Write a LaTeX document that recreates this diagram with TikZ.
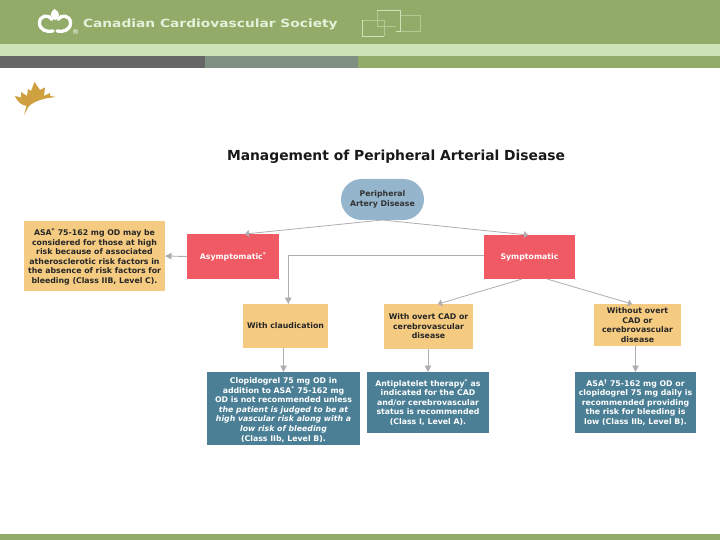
\documentclass[tikz,border=0pt]{standalone}
\usepackage{fontspec}
\setmainfont{DejaVu Sans}
\newfontfamily\hdrfont[FakeStretch=1.22]{DejaVu Sans Bold}
\usetikzlibrary{arrows.meta,shapes.misc}
\definecolor{band}{HTML}{92AB68}
\definecolor{lightband}{HTML}{CBE3B6}
\definecolor{darkgrey}{HTML}{666666}
\definecolor{midgrey}{HTML}{7F8F82}
\definecolor{tan}{HTML}{F5CB82}
\definecolor{redbox}{HTML}{F05A64}
\definecolor{teal}{HTML}{4A7F96}
\definecolor{bluepill}{HTML}{94B5CC}
\definecolor{connector}{HTML}{ADADB2}
\definecolor{leaf}{HTML}{CFA040}
\tikzset{
  x=1pt,y=-1pt,
  every node/.style={inner sep=0pt,outer sep=0pt,align=center,font=\fontsize{7.8}{9.55}\selectfont\bfseries},
  tanbox/.style={fill=tan,text=black!85},
  redb/.style={fill=redbox,text=white},
  tealbox/.style={fill=teal,text=white},
  link/.style={draw=connector,line width=0.9pt,-{Triangle[length=6.5pt,width=6.5pt]}},
  thinlink/.style={draw=connector,line width=0.8pt,-{Triangle[length=4pt,width=7pt]}},
  frameline/.style={draw=lightband,line width=0.8pt},
  faintline/.style={draw=lightband!55!band,line width=0.6pt},
}
\begin{document}
\begin{tikzpicture}
\useasboundingbox (0,0) rectangle (720,540);
% bands
\fill[band] (0,0) rectangle (720,44);
\fill[lightband] (0,44) rectangle (720,56);
\fill[darkgrey] (0,56) rectangle (205,68);
\fill[midgrey] (205,56) rectangle (358,68);
\fill[band] (358,56) rectangle (720,68);
\fill[band] (0,534) rectangle (720,540);
% society logo
\draw[white,line width=3.3pt,line cap=round] (52,19.5) .. controls (49,14) and (39.5,15) .. (39.5,23) .. controls (39.5,30) and (47,32.5) .. (53,31);
\draw[white,line width=3.3pt,line cap=round] (58,19.5) .. controls (61,14) and (70.5,15) .. (70.5,23) .. controls (70.5,30) and (63,32.5) .. (57,31);
\fill[white] (54.5,9) .. controls (50,12) and (49,17) .. (55,20) .. controls (61,17) and (60,12) .. (54.5,9) -- cycle;
\node[text=white,font=\fontsize{7}{8}\selectfont] (reg) at (75.5,31.5) {®};
\node[anchor=west,text=lightband!50!white,font=\fontsize{11.3}{13}\hdrfont] (society) at (83,24.3) {Canadian Cardiovascular Society};
% decorative frames
\draw[faintline] (400,15.5) rectangle (420,31);
\draw[faintline] (377,26) -- (396,26);
\draw[faintline] (377,10) -- (377,26);
\draw[faintline] (384,20) -- (362,20);
\draw[faintline] (384,20) -- (384,36);
\draw[frameline] (362,20) -- (362,36) -- (384,36);
\draw[frameline] (377,10) -- (400,10) -- (400,31) -- (396,31);
% maple leaf
\fill[leaf] (24,115) -- (26.5,106) .. controls (22,105) and (18,103) .. (15,96) -- (21,97.5) -- (21,92) -- (27,96) -- (28,89) -- (31,91) -- (34.5,82) -- (40,90) -- (45,87.5) -- (44,96) -- (50,93) -- (50,96) -- (56,97) .. controls (46,98) and (36,100) .. (29,106) -- cycle;
% title
\node[anchor=west,text=black!90,font=\fontsize{13.85}{16}\selectfont\bfseries] (title) at (227,156.5) {Management of Peripheral Arterial Disease};
% flowchart
\node[fill=bluepill,rounded rectangle,minimum width=83pt,minimum height=41pt,text=black!80] (pad) at (382.5,199.5) {Peripheral\\Artery Disease};
\node[tanbox,minimum width=141pt,minimum height=70pt] (asa) at (94.5,256) {\rule{0pt}{9pt}ASA\textsuperscript{*} 75-162 mg OD may be\\considered for those at high\\risk because of associated\\atherosclerotic risk factors in\\the absence of risk factors for\\bleeding (Class IIB, Level C).};
\node[redb,minimum width=92pt,minimum height=45pt] (asym) at (233,256.5) {Asymptomatic\textsuperscript{*}};
\node[redb,minimum width=91pt,minimum height=44pt] (sym) at (529.5,257) {Symptomatic};
\node[tanbox,minimum width=85pt,minimum height=44pt] (claud) at (285.5,326) {With claudication};
\node[tanbox,minimum width=89pt,minimum height=45pt] (overt) at (428.5,326.5) {With overt CAD or\\cerebrovascular\\disease};
\node[tanbox,minimum width=87pt,minimum height=42pt] (noovert) at (637.5,325) {Without overt\\CAD or\\cerebrovascular\\disease};
\node[tealbox,minimum width=153pt,minimum height=73pt] (clop) at (283.5,408.5) {\rule{0pt}{9pt}Clopidogrel 75 mg OD in\\addition to ASA\textsuperscript{*} 75-162 mg\\OD is not recommended unless\\{\itshape the patient is judged to be at}\\{\itshape high vascular risk along with a}\\{\itshape low risk of bleeding}\\(Class IIb, Level B).};
\node[tealbox,minimum width=122pt,minimum height=61pt] (anti) at (428,402.5) {Antiplatelet therapy\textsuperscript{*} as\\indicated for the CAD\\and/or cerebrovascular\\status is recommended\\(Class I, Level A).};
\node[tealbox,minimum width=121pt,minimum height=61pt] (rec) at (635.5,402.5) {ASA\textsuperscript{†} 75-162 mg OD or\\clopidogrel 75 mg daily is\\recommended providing\\the risk for bleeding is\\low (Class IIb, Level B).};
% connector end points
\coordinate (padfoot) at (pad.south);
\coordinate (asymtop) at (245,234);
\coordinate (symtop) at (528,235);
\coordinate (elbow) at (288.3,255.4);
\coordinate (claudtop) at (288.3,304);
\coordinate (symbl) at (522,279);
\coordinate (symbr) at (547,279);
\coordinate (overttop) at (438,304);
\coordinate (nooverttop) at (632,304);
% connectors
\draw[thinlink] (padfoot) -- (asymtop);
\draw[thinlink] (padfoot) -- (symtop);
\draw[link] (asym.west) -- (asa.east);
\draw[link] (sym.west |- elbow) -- (elbow) -- (claudtop);
\draw[thinlink] (symbl) -- (overttop);
\draw[thinlink] (symbr) -- (nooverttop);
\draw[link] (clop.north |- claud.south) -- (clop.north);
\draw[link] (anti.north |- overt.south) -- (anti.north);
\draw[link] (rec.north |- noovert.south) -- (rec.north);
\end{tikzpicture}
\end{document}
